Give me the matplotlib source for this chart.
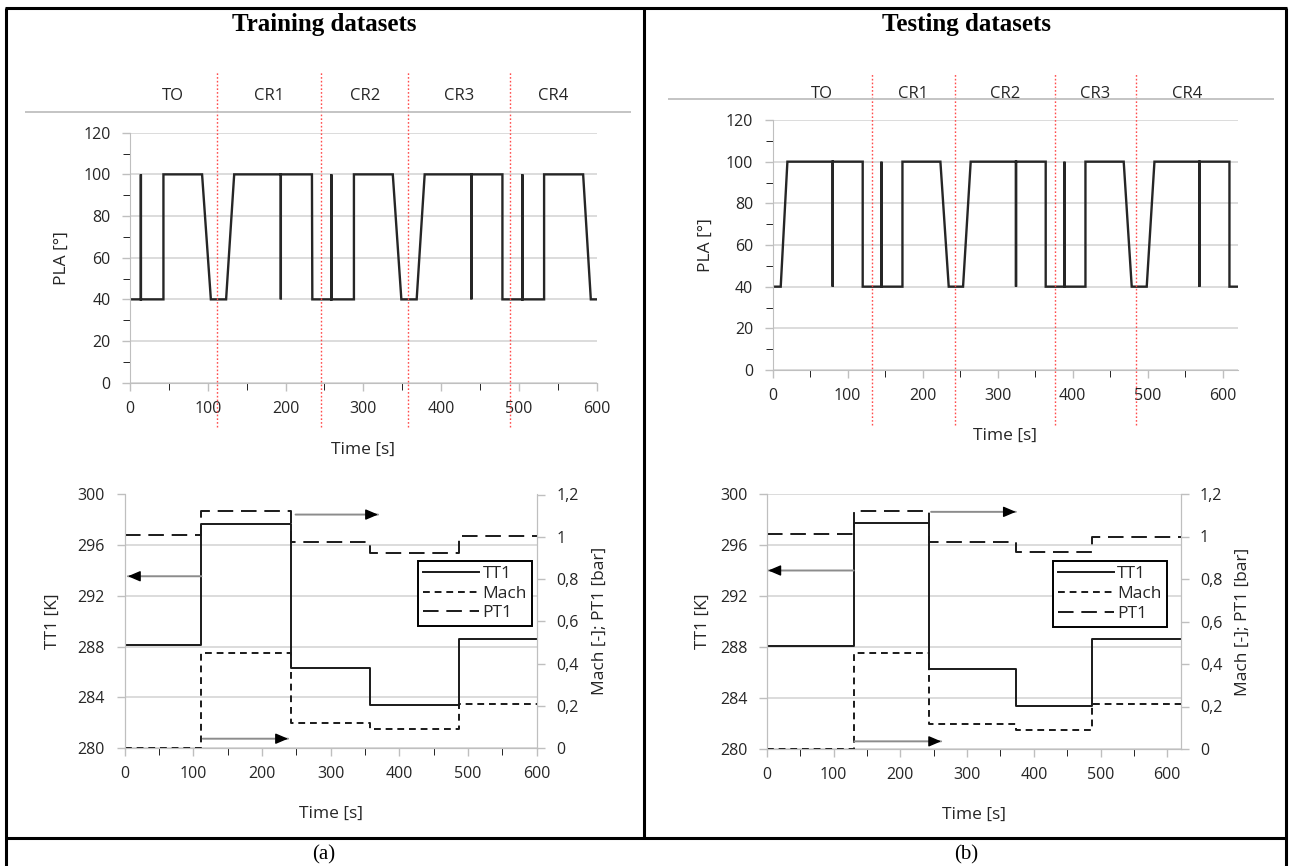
import matplotlib
matplotlib.use('Agg')
import matplotlib.pyplot as plt
from matplotlib.lines import Line2D
import matplotlib.transforms as mtransforms
import numpy as np

plt.rcParams['font.family'] = ['Open Sans', 'DejaVu Sans']

# ---------------- data ----------------
phase_labels = ['TO', 'CR1', 'CR2', 'CR3', 'CR4']

train_bounds = [111.5, 246, 358, 488.5]
test_bounds = [132, 243, 377, 484]

train_pla_t = [0, 14, 14, 14, 43, 43, 92.7, 104, 123.6, 134, 194, 194, 194, 234, 234.5,
               259, 259, 259, 288, 288, 338, 349, 368.7, 379, 439, 439, 439, 479, 479,
               504.7, 504.7, 504.7, 532.6, 532.6, 582.8, 592.7, 600]
train_pla_v = [40, 40, 100, 40, 40, 100, 100, 40, 40, 100, 100, 40, 100, 100, 40,
               40, 100, 40, 40, 100, 100, 40, 40, 100, 100, 40, 100, 100, 40,
               40, 100, 40, 40, 100, 100, 40, 40]

test_pla_t = [0, 10.7, 19.6, 80, 80, 80, 120, 120, 145, 145, 145, 173, 173, 223.6, 234.7,
              253.8, 264, 324.4, 324.4, 324.4, 364, 364, 389, 389, 389, 417, 417, 468,
              478.7, 498.7, 509, 569, 569, 569, 609, 609, 619.6]
test_pla_v = [40, 40, 100, 100, 40, 100, 100, 40, 40, 100, 40, 40, 100, 100, 40,
              40, 100, 100, 40, 100, 100, 40, 40, 100, 40, 40, 100, 100,
              40, 40, 100, 100, 40, 100, 100, 40, 40]

train_edges = [0, 112, 243, 357, 487, 600]
train_TT1 = [288.1, 297.7, 286.35, 283.4, 288.6]
train_Mach = [0.0, 0.45, 0.12, 0.09, 0.21]
train_PT1 = [1.01, 1.12, 0.975, 0.925, 1.005]

test_edges = [0, 130, 243, 374, 487, 620]
test_TT1 = [288.1, 297.7, 286.3, 283.4, 288.6]
test_Mach = [0.0, 0.45, 0.12, 0.09, 0.21]
test_PT1 = [1.01, 1.12, 0.975, 0.925, 1.0]

# arrows: (x_start, x_end, y) ; left-arrow on TT1 axis, others on right axis
train_arrows = {'left': (112, 5, 293.55), 'top': (249, 369, 1.105), 'bottom': (114, 238, 0.044)}
test_arrows = {'left': (130, 2, 294.0), 'top': (246, 373, 1.116), 'bottom': (131, 261, 0.036)}

# ---------------- layout ----------------
W, H = 1289, 866
fig = plt.figure(figsize=(W / 100, H / 100), dpi=100)


def fx(px):
    return px / W


def fy(py):
    return 1 - py / H


def rect(x0, x1, ytop, ybot):
    return [fx(x0), fy(ybot), (x1 - x0) / W, (ybot - ytop) / H]


GRAY = '#bfbfbf'
GRID = '#d9d9d9'
TXT = '#262626'
TICK_FS = 11.5
LAB_FS = 12.5


def fline(x0, y0, x1, y1, lw=2.2, color='black'):
    fig.add_artist(Line2D([fx(x0), fx(x1)], [fy(y0), fy(y1)], color=color, lw=lw,
                          transform=fig.transFigure, solid_capstyle='butt'))


# table borders
fline(5, 8, 1287, 8)
fline(6, 8, 6, 866)
fline(1286, 8, 1286, 866)
fline(643.5, 8, 643.5, 838)
fline(5, 838, 1287, 838)

fig.text(fx(324), fy(25), 'Training datasets', family='Liberation Serif', weight='bold',
         fontsize=18, ha='center', va='center')
fig.text(fx(966), fy(25), 'Testing datasets', family='Liberation Serif', weight='bold',
         fontsize=18, ha='center', va='center')
fig.text(fx(324), fy(855), '(a)', family='Liberation Serif', fontsize=15, ha='center', va='center')
fig.text(fx(966), fy(855), '(b)', family='Liberation Serif', fontsize=15, ha='center', va='center')


def style_common(ax):
    ax.tick_params(axis='both', colors=GRAY, labelcolor=TXT, labelsize=TICK_FS, width=1)
    ax.tick_params(which='major', length=6)
    ax.tick_params(which='minor', length=5)


def pla_axes(r, t, v, bounds, xmax, red_ylim, head_y, head_line, ylab_x):
    ax = fig.add_axes(r)
    ax.plot(t, v, color='#262626', lw=1.7, solid_joinstyle='miter')
    ax.set_xlim(0, xmax)
    ax.set_ylim(0, 120)
    ax.set_yticks(np.arange(0, 121, 20))
    ax.set_yticks(np.arange(0, 121, 10), minor=True)
    ax.set_xticks(np.arange(0, 601, 100))
    ax.set_xticks(np.arange(0, 601, 50), minor=True)
    ax.grid(axis='y', which='major', color=GRID, lw=1.3)
    ax.set_axisbelow(True)
    for s in ['top', 'right']:
        ax.spines[s].set_visible(False)
    for s in ['left', 'bottom']:
        ax.spines[s].set_color(GRAY)
    style_common(ax)
    ax.tick_params(axis='y', pad=8)
    ax.tick_params(axis='x', pad=7)
    ax.set_ylabel('PLA [°]', fontsize=LAB_FS, color=TXT)
    ax.yaxis.set_label_coords(ylab_x, 0.5)
    ax.set_xlabel('Time [s]', fontsize=LAB_FS, color=TXT)
    ax.xaxis.set_label_coords(0.5, red_ylim[2])
    # phase boundaries
    for b in bounds:
        ax.axvline(b, ymin=red_ylim[0], ymax=red_ylim[1], clip_on=False, color='#ff4d4d',
                   lw=1.0, ls=(0, (1.2, 1.5)))
    edges = [0] + list(bounds) + [xmax]
    trans = mtransforms.blended_transform_factory(ax.transData, ax.transAxes)
    for i, lab in enumerate(phase_labels):
        ax.text((edges[i] + edges[i + 1]) / 2, head_y, lab, transform=trans, ha='center',
                va='center', fontsize=12, color=TXT)
    fline(*head_line, lw=1.3, color=GRAY)
    return ax


pla_axes(rect(130, 596.5, 132.7, 382.7), train_pla_t, train_pla_v, train_bounds, 600,
         (-0.177, 1.245, -0.236), 1.148, (25, 112, 631, 112), -0.129)
pla_axes(rect(772.7, 1237.7, 120, 370), test_pla_t, test_pla_v, test_bounds, 620,
         (-0.22, 1.19, -0.232), 1.105, (668, 99, 1274, 99), -0.126)


def draw_arrow(a, x0, x1, y, head_len):
    a.annotate('', xy=(x1, y), xytext=(x0, y),
               arrowprops=dict(arrowstyle='-', color='#8c8c8c', lw=1.4,
                               shrinkA=0, shrinkB=0))
    d = head_len if x1 > x0 else -head_len
    a.annotate('', xy=(x1, y), xytext=(x1 - d, y),
               arrowprops=dict(arrowstyle='-|>,head_length=0.75,head_width=0.32',
                               color='black', lw=1.0, shrinkA=0, shrinkB=0))


def cond_axes(r, edges, tt1, mach, pt1, xmax, arrows, leg_anchor, ylab_x, rlab_x, xlab_y):
    ax = fig.add_axes(r)
    ax2 = ax.twinx()
    ax.step(edges, list(tt1) + [tt1[-1]], where='post', color='#1a1a1a', lw=1.4)
    ax2.step(edges, list(mach) + [mach[-1]], where='post', color='#1a1a1a', lw=1.4,
             ls=(0, (3.5, 2.5)))
    ax2.step(edges, list(pt1) + [pt1[-1]], where='post', color='#1a1a1a', lw=1.4,
             ls=(0, (8, 4)))
    ax.set_xlim(0, xmax)
    ax.set_ylim(280, 300)
    ax2.set_ylim(0, 1.2)
    ax.set_yticks(np.arange(280, 301, 4))
    ax2.set_yticks(np.arange(0, 1.21, 0.2))
    ax2.set_yticklabels(['0', '0,2', '0,4', '0,6', '0,8', '1', '1,2'])
    ax.set_xticks(np.arange(0, 601, 100))
    ax.set_xticks(np.arange(0, 601, 50), minor=True)
    ax.grid(axis='y', color=GRID, lw=1.3)
    ax.set_axisbelow(True)
    for a in (ax, ax2):
        a.spines['top'].set_visible(False)
        for s in ['left', 'right', 'bottom']:
            a.spines[s].set_color(GRAY)
        style_common(a)
    ax.tick_params(axis='y', pad=8)
    ax2.tick_params(axis='y', pad=8)
    ax.tick_params(axis='x', pad=7)
    ax.set_ylabel('TT1 [K]', fontsize=LAB_FS, color=TXT)
    ax.yaxis.set_label_coords(ylab_x, 0.5)
    ax2.set_ylabel('Mach [-]; PT1 [bar]', fontsize=LAB_FS, color=TXT, rotation=90)
    ax2.yaxis.set_label_coords(rlab_x, 0.5)
    ax.set_xlabel('Time [s]', fontsize=LAB_FS, color=TXT)
    ax.xaxis.set_label_coords(0.5, xlab_y)
    head_len = xmax * 0.02
    x0, x1, y = arrows['left']
    draw_arrow(ax, x0, x1, y, head_len)
    for k in ('top', 'bottom'):
        x0, x1, y = arrows[k]
        draw_arrow(ax2, x0, x1, y, head_len)
    handles = [Line2D([], [], color='#1a1a1a', lw=1.4),
               Line2D([], [], color='#1a1a1a', lw=1.4, ls=(0, (3.5, 2.5))),
               Line2D([], [], color='#1a1a1a', lw=1.4, ls=(0, (8, 4)))]
    leg = ax2.legend(handles, ['TT1', 'Mach', 'PT1'], loc='upper right',
                     bbox_to_anchor=leg_anchor, borderaxespad=0, fancybox=False,
                     edgecolor='black', fontsize=12.5, handlelength=3.2, handletextpad=0.2,
                     labelspacing=0.2, borderpad=0.3, framealpha=1)
    leg.get_frame().set_linewidth(1.4)
    for txt in leg.get_texts():
        txt.set_color(TXT)
    return ax


cond_axes(rect(124.5, 536.7, 494.5, 748), train_edges, train_TT1, train_Mach, train_PT1, 600,
          train_arrows, (0.9886, 0.739), -0.154, 1.134, -0.228)
cond_axes(rect(767, 1180.6, 494, 749), test_edges, test_TT1, test_Mach, test_PT1, 620,
          test_arrows, (0.967, 0.737), -0.135, 1.131, -0.226)

fig.savefig('out.png', dpi=100)
